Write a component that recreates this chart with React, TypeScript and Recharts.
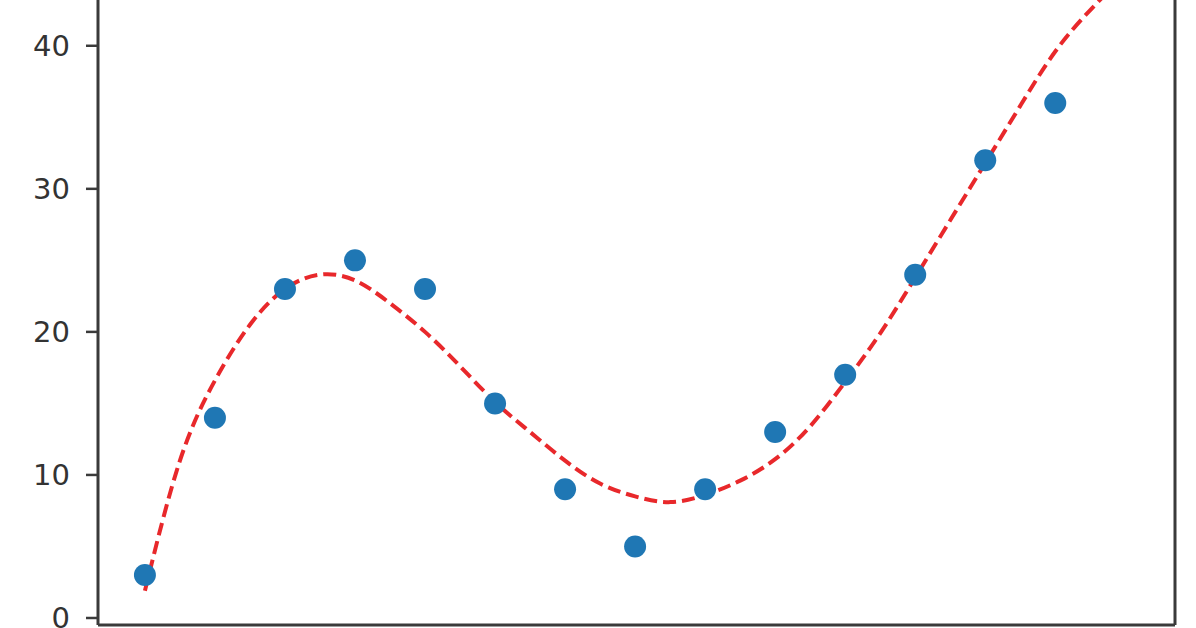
import { ComposedChart, Scatter, Line, XAxis, YAxis, ReferenceLine } from "recharts";

// observed points (x = 1..14)
const xs = [1, 2, 3, 4, 5, 6, 7, 8, 9, 10, 11, 12, 13, 14];
const ys = [3, 14, 23, 25, 23, 15, 9, 5, 9, 13, 17, 24, 32, 36];

// fitted curve
const curveX = [1, 1.5, 2, 2.5, 3, 3.5, 4, 4.5, 5, 5.5, 6, 6.5, 7, 7.5, 8, 8.5, 9, 9.5, 10, 10.5, 11, 11.5, 12, 12.5, 13, 13.5, 14, 14.5, 15];
const curveY = [1.9, 11.0, 16.6, 20.5, 23.0, 24.0, 23.6, 22.0, 20.0, 17.6, 15.1, 13.0, 11.0, 9.4, 8.5, 8.1, 8.6, 9.6, 11.1, 13.4, 16.5, 19.9, 23.8, 27.8, 31.8, 35.8, 39.6, 42.5, 45.0];

const yTicks = [0, 10, 20, 30, 40];

const points = xs.map((x, i) => ({ x, y: ys[i] }));
const curve = curveX.map((x, i) => ({ x, y: curveY[i] }));

const X_MIN = 0.33;
const X_MAX = 15.71;

const axisColor = "#3a3a3a";

const Dot = (props: any) => <circle cx={props.cx} cy={props.cy} r={11} fill="#1f77b4" />;

export default function App() {
  return (
    <div style={{ position: "absolute", left: 0, top: 0, background: "#fff" }}>
      <ComposedChart width={1196} height={628} margin={{ top: 0, right: 21, bottom: 0, left: 0 }}>
        <XAxis
          type="number"
          dataKey="x"
          domain={[X_MIN, X_MAX]}
          allowDataOverflow
          height={3}
          tick={false}
          tickLine={false}
          axisLine={{ stroke: axisColor, strokeWidth: 3 }}
        />
        <YAxis
          type="number"
          dataKey="y"
          domain={[-0.49, 43.2]}
          allowDataOverflow
          ticks={yTicks}
          interval={0}
          width={98}
          tickSize={12}
          tickMargin={16}
          tickLine={{ stroke: axisColor, strokeWidth: 2.5 }}
          axisLine={{ stroke: axisColor, strokeWidth: 3 }}
          tick={{ fill: "#333", fontSize: 29, fontFamily: "DejaVu Sans" }}
        />
        <ReferenceLine x={X_MAX} stroke={axisColor} strokeWidth={3} />
        <Scatter data={points} dataKey="y" shape={Dot} isAnimationActive={false} />
        <Line
          data={curve}
          dataKey="y"
          type="natural"
          stroke="#e8282b"
          strokeWidth={4}
          strokeDasharray="13 6"
          dot={false}
          activeDot={false}
          isAnimationActive={false}
        />
      </ComposedChart>
    </div>
  );
}
